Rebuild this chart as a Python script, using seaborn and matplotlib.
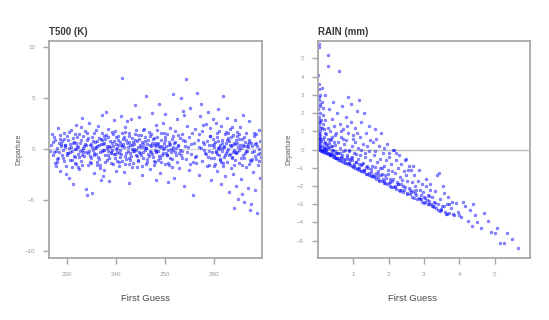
import matplotlib
matplotlib.use("Agg")
import matplotlib.pyplot as plt
import seaborn as sns
import pandas as pd

# ---- T500 (K): first guess vs departure ----
t500_fg = [
    226.8, 227.1, 227.3, 227.6, 227.9, 228.2, 228.4, 228.6, 228.9, 229.1, 229.3, 229.5, 229.7, 229.9,
    230.1, 230.3, 230.5, 230.6, 230.8, 231.0, 231.2, 231.4, 231.5, 231.7, 231.9, 232.0, 227.5, 228.0,
    228.7, 229.2, 230.0, 230.9, 231.6, 226.6, 229.8, 231.1,
    232.2, 232.4, 232.5, 232.7, 232.9, 233.1, 233.2, 233.4, 233.6, 233.8, 233.9, 234.1, 234.3, 234.4,
    234.6, 234.8, 235.0, 235.1, 235.3, 235.5, 235.6, 235.8, 236.0, 232.3, 233.0, 233.7, 234.5, 235.2,
    235.9, 234.0, 232.8, 236.0,
    236.2, 236.3, 236.5, 236.7, 236.9, 237.0, 237.2, 237.4, 237.5, 237.7, 237.9, 238.1, 238.2, 238.4,
    238.6, 238.8, 238.9, 239.1, 239.3, 239.4, 239.6, 239.8, 240.0, 236.4, 237.1, 237.8, 238.5, 239.2,
    239.9, 236.8, 238.0, 240.0,
    240.2, 240.4, 240.5, 240.7, 240.9, 241.0, 241.1, 241.3, 241.5, 241.6, 241.8, 242.0, 242.1, 242.3,
    242.5, 242.6, 242.8, 243.0, 243.1, 243.3, 243.5, 243.6, 243.8, 244.0, 240.3, 241.2, 241.9, 242.7,
    243.4, 244.0, 240.8, 242.2,
    244.2, 244.3, 244.5, 244.7, 244.9, 245.0, 245.2, 245.4, 245.5, 245.7, 245.9, 246.0, 246.2, 246.4,
    246.5, 246.7, 246.9, 247.0, 247.2, 247.4, 247.5, 247.7, 247.9, 248.0, 244.6, 245.3, 246.1, 246.8,
    247.6, 248.0, 245.8, 244.4,
    248.2, 248.4, 248.5, 248.7, 248.9, 249.0, 249.2, 249.4, 249.5, 249.7, 249.9, 250.0, 250.2, 250.4,
    250.5, 250.7, 250.9, 251.0, 251.2, 251.4, 251.5, 251.7, 251.9, 252.0, 248.3, 249.1, 249.8, 250.6,
    251.3, 251.8, 250.1, 248.8,
    252.2, 252.4, 252.6, 252.8, 253.0, 253.2, 253.4, 253.6, 253.8, 254.0, 254.2, 254.3, 254.5, 254.7,
    254.9, 255.1, 255.3, 255.5, 255.7, 255.9, 252.5, 253.3, 254.1, 254.8, 255.6, 253.9, 252.9,
    256.1, 256.3, 256.5, 256.7, 256.9, 257.0, 257.2, 257.4, 257.6, 257.8, 258.0, 258.2, 258.4, 258.5,
    258.7, 258.9, 259.1, 259.3, 259.5, 259.7, 259.9, 256.8, 257.9, 258.6, 259.2, 260.0, 257.3,
    260.1, 260.2, 260.3, 260.4, 260.5, 260.6, 260.7, 260.8, 260.9, 261.0, 261.1, 261.2, 261.3, 261.4,
    261.5, 261.6, 261.7, 261.8, 261.9, 262.0, 262.1, 262.2, 262.3, 262.4, 262.5, 262.6, 262.7, 262.8,
    262.9, 263.0, 263.1, 263.2, 263.3, 263.4, 263.5, 263.6, 263.7, 263.8, 263.9, 264.0, 264.1, 264.2,
    264.3, 264.4, 264.5, 264.6, 264.7, 264.8, 264.9,
    265.0, 265.2, 265.3, 265.5, 265.6, 265.8, 265.9, 266.1, 266.2, 266.4, 266.5, 266.7, 266.8, 267.0,
    267.1, 267.3, 267.5, 267.6, 267.8, 268.0, 268.2, 268.3, 268.5, 268.6, 268.8, 269.0, 269.2, 269.3,
    265.4, 266.0, 266.9, 267.7, 268.4, 269.1, 265.7, 267.2,
    227.4, 228.3, 229.0, 229.6, 230.2, 230.7, 231.3, 231.8, 232.6, 233.5, 234.2, 234.9, 235.4, 235.7,
    236.6, 237.3, 237.6, 238.3, 238.7, 239.0, 239.5, 239.7, 240.1, 240.6, 241.4, 241.7, 242.4, 242.9,
    243.2, 243.7, 243.9, 244.1, 244.8, 245.1, 245.6, 246.3, 246.6, 247.1, 247.3, 247.8, 248.1, 248.6,
    249.3, 249.6, 250.3, 250.8, 251.1, 251.6, 252.1, 252.7, 259.6, 260.0, 260.6, 261.0, 261.5, 262.0,
    262.5, 263.0, 263.6, 264.2, 264.7, 265.1, 265.8, 266.3, 266.8, 267.4, 268.1, 268.7,
    227.0, 227.8, 228.5, 229.4, 230.4, 231.5, 232.1, 233.0, 233.3, 234.7, 235.4, 236.1, 237.0, 237.6,
    238.3, 239.0, 239.7, 240.5, 241.2, 241.8, 242.6, 243.2, 243.9, 244.5, 245.4, 246.0, 246.9, 247.6,
    248.4, 249.2, 250.0, 250.8, 251.6, 252.3, 253.5, 255.0, 256.2, 257.5, 259.0, 260.5, 261.3, 262.3,
    263.3, 264.0, 265.0, 266.0, 267.0, 268.0, 269.0,
    227.2, 227.7, 228.1, 228.8, 229.3, 229.9, 230.4, 230.9, 231.2, 231.9,
    232.4, 232.9, 233.3, 233.8, 234.2, 234.6, 235.0, 235.5, 236.0, 236.5,
    236.9, 237.4, 237.8, 238.2, 238.6, 239.1, 239.5, 239.9, 240.3, 240.8,
    241.1, 241.6, 242.0, 242.5, 242.9, 243.3, 243.7, 244.2, 244.6, 245.0,
    245.5, 245.9, 246.3, 246.8, 247.2, 247.7, 248.1, 248.6, 249.0, 249.5,
    249.9, 250.4, 250.9, 251.4, 251.9, 252.6, 253.1, 253.7, 254.4, 255.2,
    256.0, 256.8, 257.7, 258.3, 258.9, 259.4, 259.8, 260.3, 260.7, 261.1,
    261.6, 262.1, 262.6, 263.1, 263.5, 264.0, 264.5, 265.0, 265.5, 266.0,
    266.5, 267.0, 267.6, 268.2, 268.8, 269.3,
    227.9, 228.6, 229.5, 230.6, 231.6, 232.2, 233.1, 234.0, 234.9, 235.8,
    236.7, 237.5, 238.4, 239.3, 240.1, 240.9, 241.8, 242.7, 243.5, 244.4,
    245.2, 246.1, 247.0, 247.9, 248.8, 249.7, 250.6, 251.5, 259.1, 260.0,
    260.9, 261.8, 262.7, 263.7, 264.6, 265.6, 266.6, 267.5, 268.4, 269.4,
]
t500_dep = [
    0.4, -0.6, 1.2, -1.4, 0.1, 2.1, -0.3, -2.2, 0.8, -0.9, 1.6, 0.2, -1.7, -0.4,
    0.9, -2.8, 0.5, -1.1, 1.9, -0.2, -3.4, 0.7, -0.8, 2.4, -1.5, 0.3, 0.9, -1.0,
    0.5, -0.1, 1.3, -1.8, 0.0, -0.2, -2.5, 1.1,
    -0.5, 1.5, -2.0, 0.6, -1.2, 3.0, 0.1, -0.7, 1.8, -3.9, -0.3, 0.9, -1.6, 2.6,
    0.4, -0.9, -4.3, 1.2, -0.1, -2.4, 0.7, 1.9, -1.3, 0.2, -0.6, 0.5, -0.2, 0.8,
    -0.5, -4.5, 2.2, 0.3,
    2.3, -0.8, 0.4, -1.9, 1.0, -0.2, 3.3, -2.7, 0.6, -0.6, 1.4, -1.1, 0.1, 2.0,
    -3.1, 0.8, -0.4, 1.7, -1.5, 0.3, 2.8, -0.9, 0.5, 1.1, 0.9, -1.3, 0.3, -0.1,
    1.2, -3.0, 3.6, -2.2,
    -0.3, 1.3, -1.7, 0.7, 3.2, -0.5, 7.0, 1.0, -2.3, 0.2, 2.2, -1.0, 0.6, -0.2,
    1.6, -3.3, 0.4, 2.9, -0.7, 1.1, -1.4, 0.0, 4.3, -0.6, 0.4, -1.2, 0.9, -0.9,
    0.7, 1.9, -0.1, 2.7,
    0.8, -1.8, 0.2, 3.1, -0.4, 1.4, -2.6, 0.5, -0.9, 2.0, -0.1, 5.2, -1.3, 0.9,
    -0.5, 1.7, -2.0, 0.3, 3.5, -0.8, 1.0, -1.6, 0.6, 2.4, -0.3, 0.7, 0.1, -0.2,
    0.4, -3.0, 1.2, -1.1,
    -0.3, 1.2, -1.1, 4.4, 0.2, -2.4, 0.9, -0.6, 2.6, 0.1, -1.5, 3.4, -0.4, 1.5,
    -3.2, 0.7, -0.9, 2.1, 0.0, -1.8, 5.4, 0.6, -0.3, 1.8, 0.5, 1.6, 0.6, -0.1,
    1.0, -2.8, 0.3, -0.7,
    -0.6, 2.9, 0.4, -1.9, 1.1, 5.0, -0.2, 3.7, -3.6, 0.8, 6.9, -1.0, 2.3, 0.2,
    -2.1, 4.0, -0.5, 1.6, -4.5, 0.6, 1.4, -0.9, 0.3, 1.2, -1.3, 3.3, -0.1,
    2.0, -0.7, 5.5, 0.9, -2.6, 3.2, 0.1, -1.2, 2.4, 0.5, -0.4, 2.5, -1.7, 0.8,
    3.6, -0.2, 1.3, -3.0, 0.4, 2.9, -0.9, 1.5, -0.1, -0.8, 2.1, 0.2, 4.4,
    -1.5, 0.7, 2.6, -0.3, 1.2, -2.2, 0.1, 3.9, -0.6, 1.8, -1.0, 0.4, -3.4, 2.3,
    -0.2, 0.9, -1.7, 5.2, 0.2, -0.8, 1.5, -2.7, 0.6, -0.4, 3.0, -1.3, 0.0, 1.1,
    -4.2, 0.8, -0.5, 2.0, -1.9, 0.3, 2.2, -0.9, 1.4, -2.5, -0.1, -5.8, 0.5, 2.8,
    -1.1, 0.9, -3.6, 1.7, -0.3, -4.9, 0.2,
    -1.4, 2.2, 0.4, -2.9, 1.0, -0.6, 3.3, -5.2, 0.7, -1.8, 1.6, -0.2, -3.8, 0.9,
    2.7, -1.1, -5.4, 0.3, -2.3, 1.3, -0.7, -4.0, 0.6, -6.3, -1.6, 1.9, -0.4, -2.8,
    0.1, -0.9, 0.5, -0.3, -1.0, 0.0, -4.4, -6.0,
    -0.3, 0.6, -0.6, 0.4, -0.4, 0.2, -0.7, 0.6, -0.2, 0.3, -0.4, 0.5, -0.6, 0.1,
    -0.3, 0.5, -0.1, -0.6, 0.2, -0.3, 0.8, -0.5, 0.1, -0.4, 0.5, -0.7, 0.2, -0.4,
    0.4, -0.2, 0.9, -0.1, 0.4, -0.6, 0.2, 0.5, -0.7, -0.3, 0.6, -0.1, 0.3, -0.2,
    0.3, -0.4, -0.6, 0.4, -0.3, 0.2, 0.1, -0.4, -0.3, 0.5, -0.5, 0.2, 0.6, 0.3,
    -0.2, -0.6, 0.4, -0.3, 0.6, -0.1, 0.4, -0.4, 0.2, 0.6, -0.2, 0.3,
    1.5, -1.7, 1.0, -1.2, 1.7, -1.4, 1.2, -1.6, 1.3, -1.3, 1.6, -1.6, 1.6, -2.1,
    1.2, -1.4, 1.8, -1.3, 1.6, -1.5, 1.3, -1.8, 1.5, -1.2, 1.9, -1.5, 1.3, -1.2,
    1.9, -1.3, 1.2, -1.6, 1.3, -1.3, 1.5, -1.5, -1.4, 1.8, -1.6, 1.6, -1.3, 1.7,
    1.2, -1.6, 1.5, 1.2, -1.5, 1.6, -1.2,
    0.7, -0.2, -0.9, 0.3, 1.0, -0.6, 0.1, -1.1, 0.6, 0.0,
    -0.8, 0.9, -0.3, 0.4, 1.1, -0.7, 0.2, -0.4, 0.8, -1.0,
    0.5, -0.1, 1.0, 0.3, -0.9, 0.6, -0.5, 0.0, 0.9, -0.8,
    0.3, 1.2, -0.4, 0.7, -1.1, 0.0, 0.5, -0.7, 1.0, 0.2,
    -0.3, 0.8, -1.0, 0.4, -0.5, 1.1, -0.2, 0.6, -0.9, 0.0,
    0.9, -0.6, 0.5, -1.0, 0.7, 0.3, -0.6, 0.9, -0.3, 0.5,
    -0.8, 0.2, 0.7, -0.5, 0.4, -0.9, 1.0, -0.2, 0.8, -1.1,
    0.1, -0.6, 0.9, 0.4, -0.8, 0.6, -0.4, 1.0, -0.9, 0.3,
    -0.2, 0.7, -1.0, 0.5, -0.5, 0.8,
    -1.3, 1.4, 0.4, -0.3, 1.5, -1.8, -0.1, 1.6, -1.4, 0.2,
    -1.6, 1.3, -0.2, 1.5, -1.2, 0.4, 1.7, -1.5, -0.2, 1.4,
    -1.7, 0.1, 1.5, -1.3, 0.3, 1.6, -1.4, -0.1, 1.3, -1.7,
    0.0, -1.4, 1.6, -0.3, 1.3, -1.6, 0.3, -1.2, 1.5, -0.8,
]

# ---- RAIN (mm): first guess vs departure ----
rain_fg = [
    0.02, 0.03, 0.01, 0.04, 0.02, 0.06, 0.03, 0.05, 0.01, 0.07, 0.02, 0.04, 0.06, 0.03,
    0.08, 0.01, 0.05, 0.02, 0.07, 0.04, 0.01, 0.06, 0.03, 0.08, 0.02, 0.05, 0.01, 0.04,
    0.07, 0.02, 0.06, 0.03, 0.01, 0.05, 0.08, 0.04, 0.06, 0.02, 0.03, 0.05,
    0.10, 0.12, 0.14, 0.15, 0.17, 0.18, 0.20, 0.11, 0.13, 0.16, 0.19, 0.21, 0.23, 0.25,
    0.27, 0.28, 0.28, 0.29, 0.30, 0.31, 0.33, 0.34, 0.35, 0.36, 0.38, 0.39, 0.40, 0.42,
    0.43, 0.44, 0.45, 0.46, 0.48, 0.49, 0.50, 0.09, 0.12, 0.14, 0.16, 0.18, 0.22, 0.24,
    0.26, 0.32, 0.37, 0.41, 0.47, 0.15, 0.20, 0.10,
    0.52, 0.54, 0.56, 0.58, 0.60, 0.61, 0.63, 0.65, 0.66, 0.68, 0.70, 0.72, 0.74, 0.76,
    0.78, 0.80, 0.82, 0.84, 0.86, 0.88, 0.90, 0.92, 0.93, 0.95, 0.97, 0.99, 1.02, 1.04,
    1.06, 1.08, 1.10, 1.12, 1.14, 1.16, 1.18, 1.20, 1.23, 1.25, 1.27, 1.30, 1.32, 1.35,
    1.38, 1.40, 1.43, 1.46, 1.48, 0.64, 0.71, 0.83, 0.89, 1.00, 1.09, 1.21, 1.34, 1.45,
    1.52, 1.55, 1.58, 1.61, 1.64, 1.67, 1.70, 1.73, 1.76, 1.79, 1.82, 1.85, 1.87, 1.90,
    1.93, 1.96, 1.99, 2.02, 2.05, 2.08, 2.12, 2.15, 2.18, 2.21, 2.24, 2.27, 2.30, 2.33,
    2.36, 2.40, 2.43, 2.46, 2.50, 2.53, 2.56, 2.59, 1.60, 1.75, 1.88, 2.00, 2.10, 2.22,
    2.35, 2.48, 2.58,
    2.62, 2.65, 2.68, 2.72, 2.75, 2.78, 2.82, 2.86, 2.89, 2.92, 2.95, 2.98, 3.01, 3.04,
    3.07, 3.10, 3.13, 3.16, 3.20, 3.23, 3.26, 3.29, 3.33, 3.37, 3.40, 3.42, 3.45, 3.48,
    3.52, 3.56, 3.60, 3.64, 3.68, 3.72, 3.76, 3.80, 3.85, 3.90, 3.95, 2.70, 3.05, 3.18,
    3.30, 3.55, 3.70,
    4.05, 4.15, 4.25, 4.30, 4.37, 4.45, 4.50, 4.60, 4.70, 4.80, 4.90, 5.00, 5.07, 5.16,
    5.25, 5.35, 5.50, 5.67, 4.10, 4.40,
    0.12, 0.20, 0.28, 0.35, 0.42, 0.50, 0.57, 0.63, 0.70, 0.77, 0.84, 0.90, 0.97, 1.04,
    1.10, 1.17, 1.24, 1.30, 1.37, 1.44, 1.51, 1.58, 1.65, 1.72, 1.80, 1.88, 1.95, 2.03,
    2.12, 2.20, 2.30, 2.41, 2.52, 2.66, 2.80, 2.94, 3.10, 3.28, 3.46, 3.62,
    0.16, 0.24, 0.31, 0.39, 0.46, 0.53, 0.60, 0.67, 0.74, 0.81, 0.88, 0.95, 1.02, 1.08,
    1.15, 1.22, 1.29, 1.36, 1.43, 1.50, 1.57, 1.63, 1.70, 1.78, 1.86, 1.93, 2.00, 2.09,
    2.17, 2.26, 2.36, 2.47, 2.60, 2.74, 2.88, 3.02, 3.15,
    0.13, 0.19, 0.22, 0.29, 0.33, 0.38, 0.41, 0.47, 0.51, 0.55,
    0.62, 0.66, 0.69, 0.75, 0.79, 0.85, 0.87, 0.94, 0.98, 1.03,
    1.07, 1.13, 1.16, 1.22, 1.27, 1.31, 1.39, 1.42, 1.49, 1.53,
    1.60, 1.62, 1.69, 1.74, 1.81, 1.84, 1.91, 1.97, 2.04, 2.07,
    2.13, 2.19, 2.25, 2.32, 2.38, 2.44, 2.51, 2.57, 2.64, 2.71,
    2.77, 2.85, 2.91, 2.99, 3.08, 3.14, 3.22, 3.31, 3.39, 3.49,
    3.58, 3.66, 3.81, 3.98,
]
rain_dep = [
    5.8, 5.6, 4.1, 3.6, 3.3, 3.0, 2.7, 2.4, 2.2, 2.0, 1.8, 1.6, 1.5, 1.3,
    1.2, 1.1, 1.0, 0.9, 0.8, 0.7, 0.6, 0.55, 0.5, 0.45, 0.4, 0.35, 0.3, 0.25,
    0.2, 0.15, 0.1, 0.05, 0.0, -0.03, -0.06, 2.9, 2.5, 1.45, 0.85, 0.65,
    3.4, 2.6, 1.9, 1.4, 1.1, 0.7, 0.4, 0.2, 0.0, -0.1, 0.9, 1.6, 0.3, -0.2,
    0.6, 5.2, 4.6, 1.2, 0.1, 2.2, -0.25, 0.5, 1.0, 0.2, -0.3, 1.7, 0.7, 0.0,
    2.6, -0.35, 0.4, 1.3, -0.1, 0.8, -0.45, 1.6, 1.2, 0.55, 0.35, 0.15, 0.05, 0.85,
    0.25, 0.35, 0.6, -0.2, 0.25, 2.3, 3.0, -0.05,
    0.9, 2.0, -0.2, 0.4, 4.3, 1.4, 0.1, -0.4, 0.7, 2.4, -0.1, 1.1, 0.3, -0.5,
    1.8, 0.5, -0.3, 0.9, 2.9, 0.0, -0.6, 1.5, 2.5, 0.2, -0.4, 0.8, -0.2, 1.2,
    0.4, -0.7, 2.1, 0.1, -0.5, 2.7, 0.7, -0.3, 1.5, -0.8, 0.3, 2.0, -0.4, 0.9,
    -0.9, 0.2, 1.3, -0.6, 0.5, 1.0, 0.6, 1.3, -0.1, 0.6, 0.9, 0.0, -0.2, -0.1,
    -0.9, 0.4, -0.3, 1.1, 0.6, -0.7, -1.2, 0.2, -0.5, 0.9, -1.0, -0.2, 0.1, -1.4,
    -0.6, 0.3, -1.1, -0.4, -1.6, -0.8, 0.0, 0.0, -1.3, -0.6, -1.8, -1.0, -0.3, -1.5,
    -0.8, -2.0, -1.2, -0.6, -0.5, -1.7, -1.1, -2.2, -0.1, -1.0, -0.9, -0.2, -1.2, -0.2,
    -1.9, -1.4, -0.9,
    -1.15, -1.8, -2.3, -1.4, -2.0, -2.5, -1.7, -1.15, -2.2, -2.7, -1.9, -2.35, -2.6, -2.9,
    -2.0, -2.5, -2.8, -2.2, -3.0, -2.6, -3.1, -2.9, -3.2, -1.4, -3.0, -1.3, -2.7, -3.3,
    -3.1, -2.4, -3.4, -3.0, -2.6, -3.5, -3.2, -2.9, -3.6, -2.95, -3.4, -0.9, -1.6, -1.9,
    -2.3, -2.0, -3.0,
    -3.7, -3.1, -3.9, -3.3, -4.2, -3.6, -4.0, -4.3, -3.5, -3.9, -4.5, -4.6, -4.3, -5.1,
    -5.1, -4.6, -4.9, -5.4, -2.9, -3.0,
    -0.1, -0.18, -0.25, -0.32, -0.4, -0.47, -0.55, -0.6, -0.67, -0.74, -0.8, -0.86, -0.93, -1.0,
    -1.06, -1.12, -1.2, -1.25, -1.33, -1.4, -1.46, -1.53, -1.6, -1.68, -1.75, -1.82, -1.9, -1.98,
    -2.06, -2.15, -2.24, -2.35, -2.45, -2.58, -2.72, -2.86, -3.0, -3.18, -3.36, -3.52,
    0.05, -0.02, -0.18, -0.05, -0.31, -0.2, -0.48, -0.3, -0.6, -0.42, -0.72, -0.58, -0.9, -0.66,
    -1.0, -0.84, -1.12, -0.98, -1.3, -1.06, -1.41, -1.3, -1.52, -1.38, -1.72, -1.55, -1.84, -1.7,
    -2.02, -1.9, -2.2, -2.05, -2.43, -2.4, -2.7, -2.66, -3.0,
    -0.11, 0.06, -0.14, 0.11, -0.28, -0.23, 0.19, -0.44, -0.21, -0.45,
    -0.17, -0.64, -0.49, -0.05, -0.73, -0.5, -0.75, -0.44, -0.94, -0.81,
    -0.27, -1.04, -0.78, -1.19, -0.72, -1.14, -1.34, -1.0, -1.21, -1.46,
    -0.95, -1.48, -1.36, -1.72, -1.33, -1.64, -1.82, -1.37, -1.78, -2.03,
    -1.61, -2.04, -1.9, -2.27, -1.68, -2.22, -2.41, -2.12, -2.34, -2.65,
    -2.22, -2.67, -2.51, -2.91, -2.78, -2.54, -3.1, -2.96, -3.34, -3.24,
    -3.08, -3.51, -3.51, -3.58,
]

t500_xticks = [230, 240, 250, 260]
t500_yticks = [-10, -5, 0, 5, 10]
rain_xticks = [1, 2, 3, 4, 5]
rain_yticks = [-5, -4, -3, -2, -1, 0, 1, 2, 3, 4, 5]

panels = [
    dict(title="T500 (K)", x=t500_fg, y=t500_dep, xlim=(226.3, 269.7), ylim=(-10.7, 10.6),
         xticks=t500_xticks, yticks=t500_yticks, zero_color="#d8d8d8",
         rect=[49 / 549, 62 / 320, 213 / 549, 217 / 320], xlab_x=0.455, ylab_x=-0.127),
    dict(title="RAIN (mm)", x=rain_fg, y=rain_dep, xlim=(0.0, 6.0), ylim=(-5.95, 5.95),
         xticks=rain_xticks, yticks=rain_yticks, zero_color="#bdbdbd",
         rect=[318 / 549, 62 / 320, 212 / 549, 217 / 320], xlab_x=0.448, ylab_x=-0.123),
]

sns.set_style("white")
plt.rcParams["font.family"] = ["Liberation Sans", "DejaVu Sans"]

frame_grey = "#a8a8a8"
label_grey = "#9a9a9a"

fig = plt.figure(figsize=(5.49, 3.20), dpi=100)
fig.patch.set_facecolor("white")

for p in panels:
    ax = fig.add_axes(p["rect"])
    ax.axhline(0, color=p["zero_color"], lw=1.0, zorder=1)
    df = pd.DataFrame({"First Guess": p["x"], "Departure": p["y"]})
    sns.scatterplot(data=df, x="First Guess", y="Departure", ax=ax,
                    color="#1a1aff", alpha=0.5, s=4.5, linewidth=0.3,
                    edgecolor="#0000ff", zorder=2)
    ax.set_xlim(*p["xlim"])
    ax.set_ylim(*p["ylim"])
    ax.set_xticks(p["xticks"])
    ax.set_yticks(p["yticks"])
    for s in ax.spines.values():
        s.set_color(frame_grey)
        s.set_linewidth(1.3)
    ax.tick_params(axis="both", which="both", direction="out", length=4, width=1.0,
                   color=frame_grey, labelcolor=label_grey, labelsize=4.5, pad=6,
                   left=True, bottom=True, top=False, right=False)
    ax.set_title(p["title"], loc="left", fontsize=7, fontweight="bold",
                 color="#3a3a3a", pad=4)
    ax.set_xlabel("First Guess", fontsize=6.8, color="#4a4a4a")
    ax.set_ylabel("Departure", fontsize=5, color="#555555")
    ax.xaxis.set_label_coords(p["xlab_x"], -0.165)
    ax.yaxis.set_label_coords(p["ylab_x"], 0.5)

fig.savefig("out.png", dpi=100, facecolor="white")
